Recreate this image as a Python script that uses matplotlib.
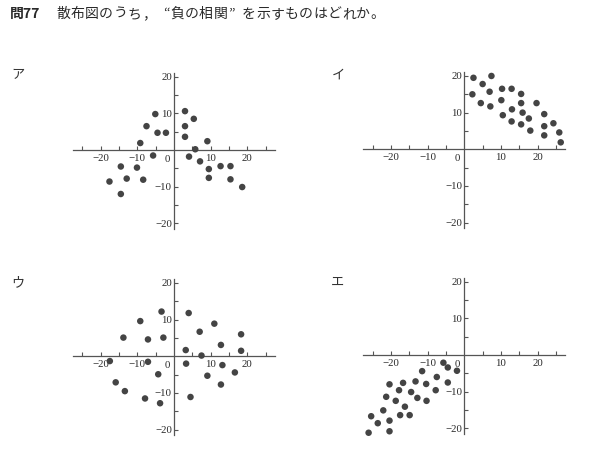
import matplotlib
matplotlib.use("Agg")
import matplotlib.pyplot as plt

plt.rcParams.update({
    "font.family": ["Noto Sans CJK JP", "DejaVu Sans"],
    "font.size": 9,
})

W, H = 609, 455
PX = 11 / 3  # pixels per data unit

TITLE_NUM = "問77"
TITLE = "散布図のうち，“負の相関”を示すものはどれか。"

# ---- data ------------------------------------------------------------------
A_X = [-17.6, -14.5, -14.5, -12.9, -10.1, -9.2, -8.4, -7.5, -5.7, -5.1, -4.5,
       -2.2, 3.0, 3.0, 3.0, 4.1, 5.4, 5.8, 7.1, 9.1, 9.5, 9.5, 12.7, 15.4,
       15.4, 18.6]
A_Y = [-8.6, -4.5, -12.0, -7.8, -4.8, 1.9, -8.1, 6.5, -1.5, 9.8, 4.7,
       4.7, 10.6, 6.5, 3.6, -1.8, 8.5, 0.2, -3.1, 2.4, -5.2, -7.6, -4.4, -4.4,
       -8.0, -10.1]

I_X = [2.5, 2.2, 5.0, 4.5, 7.4, 6.9, 7.1, 10.3, 10.1, 10.5, 12.9, 13.0, 12.9,
       15.5, 15.5, 15.9, 15.5, 17.6, 18.0, 19.7, 21.8, 21.8, 21.8, 24.3, 25.9,
       26.3]
I_Y = [19.5, 15.0, 17.8, 12.6, 20.0, 15.7, 11.7, 16.5, 13.4, 9.3, 16.5, 10.9,
       7.6, 15.1, 12.6, 10.0, 6.8, 8.4, 5.1, 12.6, 9.6, 6.3, 3.8, 7.1, 4.6,
       1.9]

U_X = [-17.5, -15.9, -13.8, -13.4, -9.2, -7.9, -7.1, -7.1, -4.3, -3.8, -3.4,
       -2.9, 3.2, 3.3, 4.0, 4.5, 7.0, 7.5, 9.1, 11.0, 12.8, 13.2, 12.8, 16.6,
       18.3, 18.3]
U_Y = [-1.3, -7.1, 5.1, -9.5, 9.6, -11.5, 4.6, -1.5, -4.9, -12.8, 12.2,
       5.1, 1.7, -2.0, 11.8, -11.1, 6.7, 0.2, -5.3, 8.9, 3.1, -2.4, -7.7, -4.4,
       6.0, 1.5]

E_X = [-26.1, -25.4, -23.6, -22.1, -21.3, -20.4, -20.4, -20.4, -18.7, -17.8,
       -17.5, -16.7, -16.2, -14.9, -14.5, -13.3, -12.8, -11.5, -10.4, -10.3,
       -7.8, -7.5, -5.7, -4.5, -4.5, -2.0]
E_Y = [-21.2, -16.7, -18.6, -15.1, -11.4, -8.0, -17.9, -20.8, -12.5, -9.6,
       -16.4, -7.6, -14.1, -16.4, -10.1, -7.2, -11.7, -4.4, -7.9, -12.5,
       -9.6, -6.0, -2.1, -3.4, -7.5, -4.3]

LABELED_TICKS = [-20, -10, 10, 20]
MINOR_TICKS = [-25, -15, -5, 5, 15, 25]

XLIM = (-27.6, 27.5)
YLIM = (-21.5, 21.0)

C_AX = "#555555"
C_PT = "#444444"
C_TXT = "#2a2a2a"
SERIF = ["Liberation Serif", "DejaVu Serif"]


def panel(fig, ox, oy, xs, ys):
    left = (ox + XLIM[0] * PX) / W
    width = (XLIM[1] - XLIM[0]) * PX / W
    bottom = (H - oy + YLIM[0] * PX) / H
    height = (YLIM[1] - YLIM[0]) * PX / H
    ax = fig.add_axes([left, bottom, width, height])
    ax.patch.set_visible(False)
    for s in ("top", "right"):
        ax.spines[s].set_visible(False)
    for s in ("left", "bottom"):
        ax.spines[s].set_position(("data", 0))
        ax.spines[s].set_color(C_AX)
        ax.spines[s].set_linewidth(0.9)
    ax.set_xticks(LABELED_TICKS)
    ax.set_yticks(LABELED_TICKS)
    ax.set_xticks(MINOR_TICKS, minor=True)
    ax.set_yticks(MINOR_TICKS, minor=True)
    labels = [f"\u2212{-t}" if t < 0 else str(t) for t in LABELED_TICKS]
    ax.set_xticklabels(labels, fontfamily=SERIF, fontsize=7.8, color=C_TXT)
    ax.set_yticklabels(labels, fontfamily=SERIF, fontsize=7.8, color=C_TXT)
    ax.tick_params(which="both", direction="in", length=3.2, width=0.8,
                   color=C_AX)
    ax.tick_params(axis="x", which="major", pad=3)
    ax.tick_params(axis="y", which="major", pad=1.5)
    ax.text(-1.8, -1.4, "0", fontfamily=SERIF, fontsize=7.8, color=C_TXT,
            ha="center", va="top")
    ax.scatter(xs, ys, s=22, color=C_PT, edgecolors="none", zorder=3,
               clip_on=False)
    # limits last: set_xticks would otherwise widen them to the outer ticks
    ax.set_xlim(*XLIM)
    ax.set_ylim(*YLIM)
    return ax


fig = plt.figure(figsize=(W / 100, H / 100), dpi=100)

fig.text(10 / W, 1 - 14 / H, TITLE_NUM, fontsize=10, fontweight="bold",
         va="center", ha="left", color=C_TXT)
# the original sets the question with wide letter spacing
x0, step = 63, 14.3
for i, ch in enumerate(TITLE):
    cx = x0 + i * step
    ha = "center"
    if ch == "“":
        cx, ha = cx + step / 2 - 1, "right"
    elif ch == "”":
        cx, ha = cx - step / 2 + 1, "left"
    fig.text(cx / W, 1 - 14 / H, ch, fontsize=10, va="center", ha=ha,
             color=C_TXT)

panel(fig, 174, 150, A_X, A_Y)
panel(fig, 464.3, 149.3, I_X, I_Y)
panel(fig, 174, 356.3, U_X, U_Y)
panel(fig, 464.3, 355, E_X, E_Y)

for lab, (x, y) in [("ア", (18, 75)), ("イ", (338, 75)),
                    ("ウ", (18, 283)), ("エ", (338, 282))]:
    fig.text(x / W, 1 - y / H, lab, fontsize=9.5, ha="center", va="center",
             color="#333333")

fig.savefig("out.png", dpi=100)
